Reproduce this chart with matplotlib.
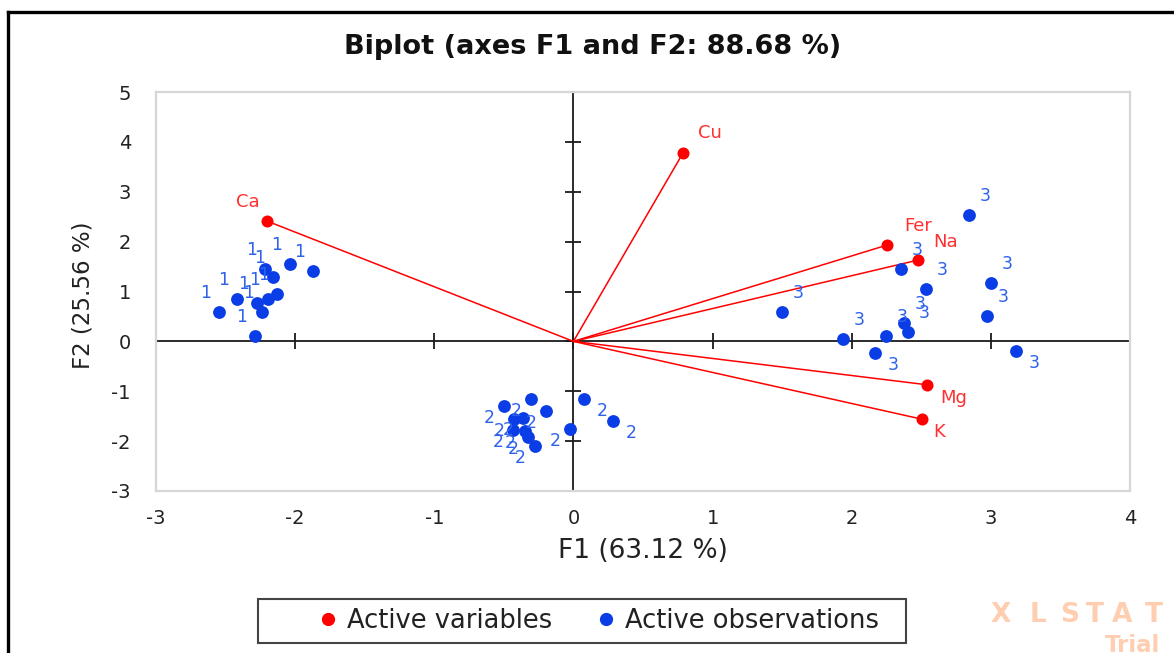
"""Biplot of the first two PCA axes (F1/F2) with variables and observations."""

import numpy as np
import matplotlib
matplotlib.use("Agg")
import matplotlib.pyplot as plt
from matplotlib.lines import Line2D
from matplotlib.patches import Rectangle

plt.rcParams["axes.unicode_minus"] = False

# Active variables: loadings scaled onto the F1/F2 plane
var_names = ["Cu", "Ca", "Fer", "Na", "Mg", "K"]
var_f1 = [0.788, -2.20, 2.253, 2.476, 2.541, 2.505]
var_f2 = [3.78, 2.41, 1.93, 1.63, -0.87, -1.56]

# Active observations: factor scores and their class label
obs_f1 = [-2.217, -2.037, -1.872, -2.159, -2.130, -2.195, -2.274, -2.238, -2.418, -2.547, -2.290,
          -0.499, -0.305, -0.197, -0.427, -0.362, -0.434, -0.348, -0.326, -0.276, 0.077, 0.285, -0.024,
          2.843, 2.354, 2.533, 3.001, 2.973, 1.499, 2.375, 2.404, 2.246, 1.937, 2.167, 3.181]
obs_f2 = [1.45, 1.55, 1.41, 1.29, 0.95, 0.85, 0.77, 0.59, 0.85, 0.59, 0.11,
          -1.30, -1.15, -1.39, -1.56, -1.54, -1.78, -1.80, -1.92, -2.10, -1.15, -1.60, -1.76,
          2.53, 1.45, 1.05, 1.17, 0.51, 0.59, 0.37, 0.19, 0.11, 0.05, -0.23, -0.19]
obs_class = ["1"] * 11 + ["2"] * 12 + ["3"] * 12

# where each label sits around its point
obs_label_side = (["ul"] * 11
                  + ["dl"] * 9 + ["dr", "dr", "dl"]
                  + ["ur"] * 10 + ["dr", "dr"])
side_offsets = {"ul": (-13, 19), "ur": (16, 19), "dl": (-15, -12), "dr": (18, -12)}
var_label_offsets = [(27, 20), (-20, 19), (31, 19), (28, 18), (27, -13), (17, -13)]

x_ticks = list(range(-3, 5))
y_ticks = list(range(-3, 6))

RED = "#ff0000"
RED_TXT = "#ff3030"
BLUE = "#0a3de6"
BLUE_TXT = "#2f62ea"
WATERMARK = "#ffcdb0"

W, H = 1174, 653
fig = plt.figure(figsize=(W / 100, H / 100), dpi=100)
ax = fig.add_axes([156 / W, 1 - 491 / H, 974 / W, 399 / H])
ax.set_xlim(-3, 4)
ax.set_ylim(-3, 5)

for s in ax.spines.values():
    s.set_color("#d6d6d6")
    s.set_linewidth(1.6)
ax.set_xticks(x_ticks)
ax.set_yticks(y_ticks)
ax.tick_params(length=0, labelsize=14, colors="#222222")
ax.tick_params(axis="x", pad=13)
ax.tick_params(axis="y", pad=18)

# axes through the origin with cross ticks
ax.axhline(0, color="#1a1a1a", lw=1.3, zorder=1)
ax.axvline(0, color="#1a1a1a", lw=1.3, zorder=1)
ax.plot(x_ticks, [0] * len(x_ticks), ls="none", marker="|", ms=12, mew=1.3, color="#1a1a1a", zorder=1)
ax.plot([0] * len(y_ticks), y_ticks, ls="none", marker="_", ms=12, mew=1.3, color="#1a1a1a", zorder=1)

# variable vectors
for x, y in zip(var_f1, var_f2):
    ax.plot([0, x], [0, y], color=RED, lw=1.1, zorder=2)
ax.scatter(var_f1, var_f2, s=75, color=RED, zorder=4, linewidths=0)
for name, x, y, off in zip(var_names, var_f1, var_f2, var_label_offsets):
    ax.annotate(name, (x, y), xytext=off, textcoords="offset pixels",
                ha="center", va="center", color=RED_TXT, fontsize=13)

ax.scatter(obs_f1, obs_f2, s=85, color=BLUE, zorder=3, linewidths=0)
for lab, x, y, side in zip(obs_class, obs_f1, obs_f2, obs_label_side):
    ax.annotate(lab, (x, y), xytext=side_offsets[side], textcoords="offset pixels",
                ha="center", va="center", color=BLUE_TXT, fontsize=12.5, zorder=5)

fig.text(593 / W, 1 - 47 / H, "Biplot (axes F1 and F2: 88.68 %)", ha="center", va="center",
         fontsize=19.5, fontweight="bold", color="#111111")
fig.text(643 / W, 1 - 551 / H, "F1 (63.12 %)", ha="center", va="center", fontsize=19, color="#222222")
fig.text(83 / W, 1 - 295 / H, "F2 (25.56 %)", ha="center", va="center", rotation=90,
         fontsize=16.5, color="#222222")

# legend below the plot, with its own box
handles = [
    Line2D([], [], ls="none", marker="o", ms=8.5, color=RED, label="Active variables"),
    Line2D([], [], ls="none", marker="o", ms=8.5, color=BLUE, label="Active observations"),
]
leg = fig.legend(handles=handles, loc="center", bbox_to_anchor=(597 / W, 1 - 621 / H), ncol=2,
                 fontsize=18.5, frameon=False, columnspacing=1.6, handletextpad=0.25,
                 handlelength=1.0, borderaxespad=0)
for t in leg.get_texts():
    t.set_color("#222222")
fig.add_artist(Rectangle((258 / W, 1 - 643 / H), 648 / W, 44 / H, transform=fig.transFigure,
                         fill=False, edgecolor="#444444", lw=1.5))

# trial watermark, letters spread out
for ch, cx in zip("XLSTAT", [1001, 1038, 1070, 1095, 1122, 1154]):
    fig.text(cx / W, 1 - 615 / H, ch, ha="center", va="center", fontsize=19,
             fontweight="bold", color=WATERMARK)
fig.text(1105 / W, 1 - 645 / H, "Trial", ha="left", va="center", fontsize=16.5,
         fontweight="bold", color=WATERMARK)

# outer frame
fig.add_artist(Line2D([8 / W, 1.0], [1 - 12 / H] * 2, color="black", lw=2.4,
                      transform=fig.transFigure))
fig.add_artist(Line2D([8 / W] * 2, [0.0, 1 - 12 / H], color="black", lw=2.4,
                      transform=fig.transFigure))

fig.savefig("out.png", dpi=100)
